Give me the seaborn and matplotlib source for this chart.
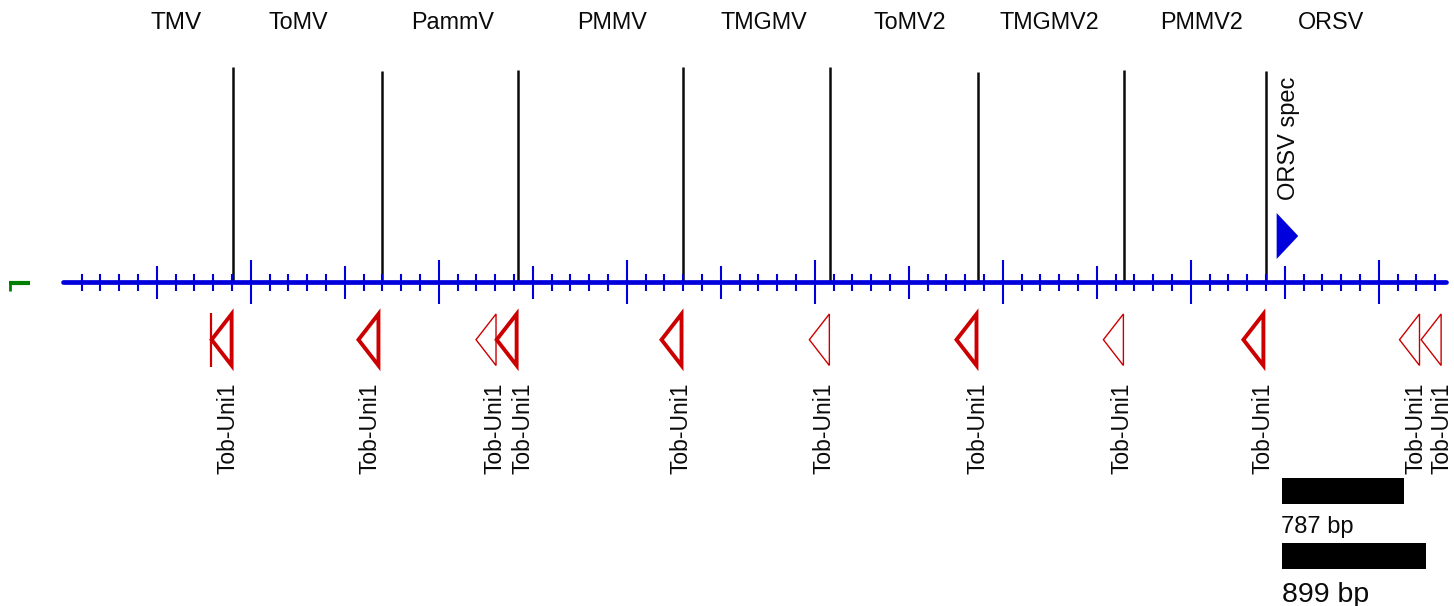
import matplotlib
matplotlib.use("Agg")
import matplotlib.pyplot as plt
from matplotlib.patches import Polygon
import seaborn as sns

# ---------------- data ----------------
seq_length = 7360          # bp, length of the concatenated map
tick_step = 100            # bp between minor ticks
virus_names = ["TMV", "ToMV", "PammV", "PMMV", "TMGMV", "ToMV2", "TMGMV2", "PMMV2", "ORSV"]
virus_label_pos = [603, 1252, 2073, 2922, 3730, 4507, 5246, 6055, 6746]
site_pos = [907, 1697, 2420, 3298, 4081, 4867, 5645, 6400]
site_height = [215, 211, 212, 215, 215, 210, 212, 211]
primer_names = ["Tob-Uni1"] * 11
primer_end = [907, 1688, 2308, 2423, 3300, 4081, 4869, 5645, 6395, 7220, 7335]
primer_strong = [True, True, False, True, True, False, True, False, True, False, False]
primer_label_pos = [869, 1629, 2289, 2439, 3283, 4044, 4858, 5624, 6379, 7188, 7328]
extra_mark_pos = [787]
fwd_primer_name = "ORSV spec"
fwd_primer_start = 6457
product_labels = ["787 bp", "899 bp"]
product_bar_start = 6485
product_bar_span = [647, 766]

# ---------------- style ----------------
W, H = 1454, 606
BP_PER_PX = 5.319
X0 = -62.7 * BP_PER_PX
TRACK_Y = 282
RED = "#cc0000"
BLUE = "#0000dd"
INK = "#0a0a0a"

sns.set_theme(style="white")
plt.rcParams["font.family"] = ["Liberation Sans", "DejaVu Sans"]

fig = plt.figure(figsize=(W / 100, H / 100), dpi=100)
ax = fig.add_axes([0, 0, 1, 1])
ax.set_xlim(X0, X0 + W * BP_PER_PX)
ax.set_ylim(H, 0)
ax.set_axis_off()

# site marker lines
ax.vlines(site_pos, [TRACK_Y - h for h in site_height], TRACK_Y, color=INK, lw=1.8, zorder=2)

# backbone
sns.lineplot(x=[0, seq_length], y=[TRACK_Y, TRACK_Y], ax=ax, color=BLUE, lw=3.4,
             zorder=3, legend=False)
ticks = list(range(tick_step, seq_length, tick_step))
minor = [t for t in ticks if (t // tick_step) % 5 != 0]
mid = [t for t in ticks if (t // tick_step) % 5 == 0 and (t // tick_step) % 10 != 0]
tall = [t for t in ticks if (t // tick_step) % 10 == 0]
ax.vlines(minor, 274, 290.5, color=BLUE, lw=1.5, zorder=3)
ax.vlines(mid, 266, 298.5, color=BLUE, lw=1.5, zorder=3)
ax.vlines(tall, 260, 303.5, color=BLUE, lw=1.5, zorder=3)

# green start glyph
ax.plot([-284, -172], [283, 283], color="#008000", lw=3.0, solid_capstyle="butt")
ax.plot([-278, -278], [283, 290.5], color="#008000", lw=2.0, solid_capstyle="butt")

# virus labels
for name, xp in zip(virus_names, virus_label_pos):
    ax.text(xp, 28.7, name, ha="center", va="baseline",
            fontsize=17.5 if name == "TMV" else 16.8, color=INK)

# reverse primers
tri_w = 20 * BP_PER_PX
for xe, strong in zip(primer_end, primer_strong):
    inset = (1.6 if strong else 0.6) * BP_PER_PX
    xr = xe - inset
    poly = Polygon([(xr, 314), (xr, 365.5), (xr - tri_w, 339.7)], closed=True,
                   fill=False, edgecolor=RED, lw=2.8 if strong else 1.0,
                   joinstyle="miter", zorder=4)
    ax.add_patch(poly)
for xm in extra_mark_pos:
    ax.vlines(xm, 313, 367, color=RED, lw=1.6)
for name, xl in zip(primer_names, primer_label_pos):
    ax.text(xl + 8 * BP_PER_PX, 382, name, rotation=90, rotation_mode="anchor",
            ha="right", va="baseline", fontsize=16.5, color=INK)

# forward primer
fw = 21.6 * BP_PER_PX
ax.add_patch(Polygon([(fwd_primer_start, 213), (fwd_primer_start, 259),
                      (fwd_primer_start + fw, 236)], closed=True,
                     facecolor=BLUE, edgecolor="none", zorder=4))
ax.text(fwd_primer_start + 18.8 * BP_PER_PX, 200, fwd_primer_name, rotation=90,
        rotation_mode="anchor", ha="left", va="baseline", fontsize=17, color=INK)

# product size bars
ax.barh([491, 556], product_bar_span, left=product_bar_start, height=25.7,
        color="black", edgecolor="none")
ax.text(product_bar_start - 3, 533, product_labels[0], ha="left", va="baseline",
        fontsize=17, color=INK)
ax.text(product_bar_start + 3, 601.5, product_labels[1], ha="left", va="baseline",
        fontsize=20.5, color=INK)

fig.savefig("out.png", dpi=100)
